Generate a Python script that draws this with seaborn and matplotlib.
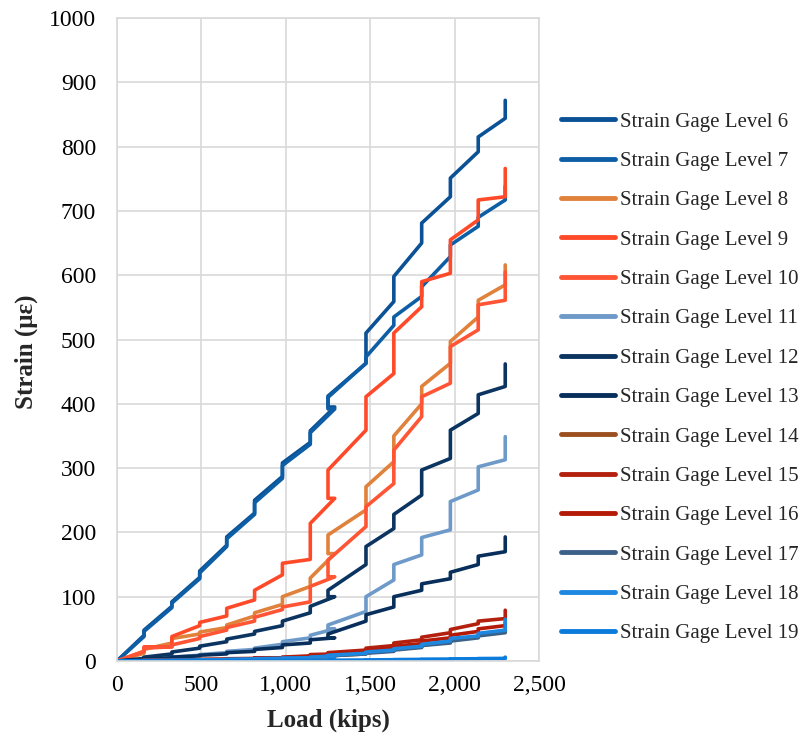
import matplotlib
matplotlib.use("Agg")
import matplotlib.pyplot as plt
import seaborn as sns
import pandas as pd
from matplotlib.ticker import FuncFormatter

# ---------------- data ----------------
level_names = [f"Strain Gage Level {i}" for i in range(6, 20)]

# load reached at the end of each ramp, and load held during each creep hold (kips)
ramp_kips = [160, 325, 490, 650, 815, 980, 1145, 1290, 1475, 1640, 1805, 1975, 2140, 2300]
hold_kips = [160, 325, 490, 650, 815, 980, 1145, 1250, 1475, 1640, 1805, 1975, 2140, 2300]

# strain (micro-strain) at end of ramp / at end of hold, per gage level
l6_ramp = [40, 85, 130, 180, 230, 287, 340, 395, 463, 559, 650, 722, 792, 844]
l6_hold = [48, 92, 140, 193, 250, 308, 358, 412, 510, 598, 681, 751, 815, 872]
l7_ramp = [38, 83, 128, 178, 228, 284, 337, 392, 463, 522, 567, 629, 676, 717]
l7_hold = [46, 90, 137, 190, 246, 304, 355, 410, 473, 535, 582, 647, 690, 738]
l8_ramp = [12, 28, 42, 52, 70, 88, 116, 167, 235, 310, 400, 463, 535, 585]
l8_hold = [18, 35, 45, 56, 75, 100, 129, 196, 271, 350, 427, 497, 561, 616]
l9_ramp = [15, 22, 55, 70, 95, 134, 158, 253, 359, 447, 551, 603, 686, 722]
l9_hold = [22, 38, 60, 82, 110, 152, 214, 297, 411, 510, 590, 655, 717, 766]
l10_ramp = [15, 22, 35, 48, 62, 80, 92, 131, 209, 276, 380, 432, 515, 561]
l10_hold = [20, 25, 38, 52, 68, 84, 116, 157, 240, 328, 411, 489, 554, 605]
l11_ramp = [2, 5, 9, 13, 18, 26, 36, 50, 77, 126, 165, 204, 266, 313]
l11_hold = [3, 6, 10, 15, 20, 30, 40, 56, 100, 150, 192, 248, 302, 349]
l12_ramp = [4, 11, 20, 30, 42, 55, 75, 100, 150, 206, 258, 315, 385, 427]
l12_hold = [6, 14, 23, 34, 46, 62, 85, 110, 178, 228, 297, 359, 414, 462]
l13_ramp = [2, 5, 8, 11, 15, 21, 28, 36, 62, 84, 110, 128, 150, 170]
l13_hold = [3, 6, 9, 13, 18, 25, 33, 42, 72, 100, 120, 138, 163, 193]
l14_ramp = [0.5, 1, 1.5, 2, 3, 4, 5, 7, 11, 16, 22, 30, 38, 46]
l14_hold = [0.8, 1.2, 2, 2.5, 3.5, 4.5, 6, 8, 13, 18, 25, 33, 41, 50]
l15_ramp = [0.5, 1, 2, 3, 4, 5, 8, 11, 17, 24, 33, 44, 58, 66]
l15_hold = [1, 1.5, 2.5, 3.5, 5, 6, 10, 13, 20, 28, 37, 49, 62, 79]
l16_ramp = [0.5, 1, 1.5, 2.5, 3.5, 4.5, 6, 9, 14, 20, 27, 36, 46, 55]
l16_hold = [0.8, 1.3, 2, 3, 4, 5.5, 7, 11, 16, 23, 31, 40, 50, 60]
l17_ramp = [0.4, 0.8, 1.2, 2, 3, 4, 5, 7, 11, 15, 21, 28, 36, 44]
l17_hold = [0.6, 1, 1.5, 2.5, 3.5, 4.5, 6, 8, 12, 17, 24, 31, 39, 48]
l18_ramp = [0.5, 1, 1.5, 2, 3, 4, 5, 8, 12, 17, 23, 31, 39, 48]
l18_hold = [0.8, 1.2, 2, 2.5, 3.5, 4.5, 6, 9, 14, 19, 26, 35, 43, 65]
l19_ramp = [0.1, 0.2, 0.3, 0.4, 0.5, 0.6, 0.8, 1, 1.5, 2, 2.5, 3, 3.5, 4]
l19_hold = [0.2, 0.3, 0.4, 0.5, 0.6, 0.7, 0.9, 1.2, 1.7, 2.2, 2.8, 3.3, 3.8, 6]

series_ramp = [l6_ramp, l7_ramp, l8_ramp, l9_ramp, l10_ramp, l11_ramp, l12_ramp,
               l13_ramp, l14_ramp, l15_ramp, l16_ramp, l17_ramp, l18_ramp, l19_ramp]
series_hold = [l6_hold, l7_hold, l8_hold, l9_hold, l10_hold, l11_hold, l12_hold,
               l13_hold, l14_hold, l15_hold, l16_hold, l17_hold, l18_hold, l19_hold]

level_colors = ["#0a5196", "#0e5ea6", "#e0823c", "#ff4a2a", "#ff5535", "#6d9ac8",
                "#0c3461", "#082f5c", "#9c4f1e", "#b3200e", "#b51a08", "#3c6188",
                "#1e88e0", "#0b7bdc"]

x_ticks = [0, 500, 1000, 1500, 2000, 2500]
y_ticks = list(range(0, 1001, 100))

# ---------------- build long table ----------------
rows = []
for name, ramp, hold in zip(level_names, series_ramp, series_hold):
    order = 0
    rows.append((name, order, 0.0, 0.0))
    for rk, hk, a, h in zip(ramp_kips, hold_kips, ramp, hold):
        order += 1
        rows.append((name, order, rk, a))
        order += 1
        rows.append((name, order, hk, a))
        order += 1
        rows.append((name, order, hk, h))
df = pd.DataFrame(rows, columns=["Level", "order", "Load", "Strain"])

# ---------------- plot ----------------
sns.set_theme(style="white")
plt.rcParams["font.family"] = ["Liberation Serif", "DejaVu Serif"]

W, H = 803, 742
fig = plt.figure(figsize=(W / 100, H / 100), dpi=100)
ax = fig.add_axes([117 / W, 1 - 661 / H, (539 - 117) / W, (661 - 18) / H])

palette = dict(zip(level_names, level_colors))
sns.lineplot(data=df, x="Load", y="Strain", hue="Level", hue_order=level_names,
             palette=palette, sort=False, estimator=None, units="Level",
             linewidth=2.6, ax=ax, legend=True)

ax.set_xlim(0, 2500)
ax.set_ylim(0, 1000)
ax.set_xticks(x_ticks)
ax.set_yticks(y_ticks)
ax.xaxis.set_major_formatter(FuncFormatter(lambda v, p: f"{int(v):,}"))
ax.yaxis.set_major_formatter(FuncFormatter(lambda v, p: f"{int(v)}"))
ax.grid(True, color="#d9d9d9", linewidth=1.2)
ax.set_axisbelow(True)
for s in ax.spines.values():
    s.set_color("#d9d9d9")
    s.set_linewidth(1.2)
ax.tick_params(axis="both", length=0, labelsize=17, colors="black")
ax.tick_params(axis="x", pad=10)
ax.tick_params(axis="y", pad=15)

ax.set_xlabel("Load (kips)", fontsize=18, fontweight="bold", labelpad=9)
ax.set_ylabel("Strain (με)", fontsize=18, fontweight="bold")
ax.yaxis.set_label_coords(-(117 - 38) / 422, (661 - 352) / 643)

handles, labels = ax.get_legend_handles_labels()
for h in handles:
    h.set_linewidth(3.5)

# legend: first row centred at y=122 px, last row at y=634 px (from top)
first_row, last_row = 122, 634
leg_fs = 15
spacing = 0.8
top = 110
renderer = fig.canvas.get_renderer()
for _ in range(4):
    leg = ax.legend(handles, labels, loc="upper left",
                    bbox_to_anchor=(561 / W, 1 - top / H),
                    bbox_transform=fig.transFigure, frameon=False, fontsize=leg_fs,
                    handlelength=2.6, handletextpad=0.25, labelspacing=spacing,
                    borderpad=0, borderaxespad=0)
    fig.canvas.draw()
    ys = []
    for t in leg.get_texts():
        bb = t.get_window_extent(renderer)
        ys.append(H - (bb.y0 + bb.y1) / 2)
    cur_step = (ys[-1] - ys[0]) / (len(ys) - 1)
    want_step = (last_row - first_row) / (len(ys) - 1)
    spacing += (want_step - cur_step) / (leg_fs * 100 / 72)
    top += first_row - ys[0]

fig.savefig("out.png", dpi=100)
